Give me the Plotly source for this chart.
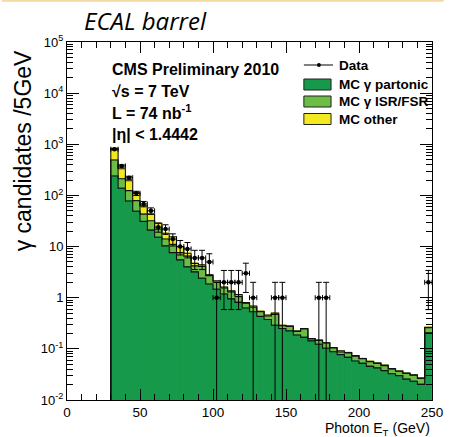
import numpy as np
import plotly.graph_objects as go

# ---- binning: 5 GeV bins from 30 to 250 GeV ----
bin_width = 5
bin_lo = list(range(30, 250, bin_width))

# ---- MC components per bin (candidates / 5 GeV) ----
mc_partonic = [240, 138, 78, 49, 31, 21, 15.2, 10.3, 7.6, 5.5, 4.0, 3.2, 2.4, 1.85,
               1.46, 1.18, 0.95, 0.81, 0.63, 0.53, 0.43, 0.375, 0.29, 0.25, 0.225,
               0.187, 0.168, 0.143, 0.123, 0.103, 0.088, 0.077, 0.068, 0.058, 0.052,
               0.0455, 0.0425, 0.0375, 0.0325, 0.030, 0.0256, 0.0232, 0.0202, 0.205]
mc_isr_fsr = [253, 74, 46, 30, 12, 11, 6.6, 3.8, 3.4, 2.1, 2.5, 1.0, 1.7, 0.85,
              0.54, 0.37, 0.35, 0.24, 0.15, 0.12, 0.10, 0.065, 0.18, 0.035, 0.05,
              0.033, 0.077, 0.013, 0.023, 0.027, 0.016, 0.010, 0.015, 0.014, 0.012,
              0.0105, 0.0095, 0.0095, 0.008, 0.0065, 0.0074, 0.0073, 0.0063, 0.055]
mc_other = [342, 121, 70, 34, 20, 11, 6.7, 4.1, 4.6, 2.35, 0.9, 0.5, 0.3, 0.1,
            0.15, 0.07, 0.07, 0.10, 0.02, 0.04, 0.01, 0.02, 0.03, 0.005, 0.005,
            0.003, 0.005, 0.003, 0.003, 0.002, 0.002, 0.005, 0.002, 0.002, 0.001,
            0.001, 0.001, 0.001, 0.0005, 0.0005, 0.0005, 0.0005, 0.0005, 0.004]

# ---- observed data counts per bin ----
data_counts = [800, 377, 222, 110, 68, 50, 24, 22, 14, 10, 9, 6, 6, 5,
               1, 2, 2, 2, 3, 1, 0, 0, 1, 1, 0, 0, 0, 0, 1, 1,
               0, 0, 0, 0, 0, 0, 0, 0, 0, 0, 0, 0, 0, 2]

# ---- axis ticks ----
x_ticks = [0, 50, 100, 150, 200, 250]
y_ticks = [1e-2, 1e-1, 1, 10, 1e2, 1e3, 1e4, 1e5]
y_ticktext = ["10<sup>-2</sup>", "10<sup>-1</sup>", "1", "10", "10<sup>2</sup>",
              "10<sup>3</sup>", "10<sup>4</sup>", "10<sup>5</sup>"]

C_PART = "#17994B"
C_ISR = "#6CBD45"
C_OTHER = "#F2EA1E"

lo = np.array(bin_lo, dtype=float)
centers = lo + bin_width / 2
lvl_part = np.array(mc_partonic)
lvl_isr = lvl_part + np.array(mc_isr_fsr)
lvl_tot = lvl_isr + np.array(mc_other)

fig = go.Figure()

# stacked histogram fills, drawn back to front
for lvl, col in [(lvl_tot, C_OTHER), (lvl_isr, C_ISR), (lvl_part, C_PART)]:
    fig.add_trace(go.Bar(x=centers, y=lvl, width=bin_width,
                         marker=dict(color=col, line=dict(color=col, width=0.6)),
                         hoverinfo="skip", showlegend=False))

# black step outlines on each stack level
step_x = list(lo) + [250.0]
for lvl in [lvl_tot, lvl_isr, lvl_part]:
    sx = [30.0] + step_x
    sy = [1e-4] + list(lvl) + [lvl[-1]]
    fig.add_trace(go.Scatter(x=sx, y=sy, mode="lines", line_shape="hv",
                             line=dict(color="#111111", width=1.1),
                             hoverinfo="skip", showlegend=False))

# data points with Poisson (sqrt N) errors
cnt = np.array(data_counts, dtype=float)
mask = cnt > 0
dx = centers[mask]
dy = cnt[mask]
err = np.sqrt(dy)
err_lo = np.where(dy - err <= 0, dy - 1e-4, err)
fig.add_trace(go.Scatter(
    x=dx, y=dy, mode="markers",
    marker=dict(color="black", size=4.5),
    error_y=dict(type="data", array=err, arrayminus=err_lo, color="black",
                 thickness=1, width=3),
    error_x=dict(type="constant", value=bin_width / 2, color="black",
                 thickness=1, width=2.5),
    hoverinfo="skip", showlegend=False))

# ---- layout geometry helpers (pixels -> paper) ----
L, R, T, B = 67, 443, 42, 400
W, H = 455, 437


def px(x):
    return (x - L) / (R - L)


def py(y):
    return (B - y) / (B - T)


FONT = "Liberation Sans, Arial, sans-serif"
ann = []
shapes = []

# title
ann.append(dict(text="ECAL barrel", x=px(82), y=py(21), xref="paper", yref="paper",
                xanchor="left", yanchor="middle", showarrow=False,
                font=dict(family="Open Sans, Lato, sans-serif", size=24,
                          style="italic", color="black")))

# y-axis title
ann.append(dict(text="γ candidates /5GeV", x=px(22), y=py(151), xref="paper",
                yref="paper", xanchor="center", yanchor="middle", textangle=-90,
                showarrow=False, font=dict(family=FONT, size=23, color="black")))

# x-axis title
ann.append(dict(text="Photon E<sub>T</sub> (GeV)", x=px(443), y=py(428.5),
                xref="paper", yref="paper", xanchor="right", yanchor="middle",
                showarrow=False, font=dict(family=FONT, size=14, color="black")))

# info block
info = [("<b>CMS Preliminary 2010</b>", 69),
        ("<b>√s = 7 TeV</b>", 91),
        ("<b>L = 74 nb<sup>-1</sup></b>", 112),
        ("<b>|η| < 1.4442</b>", 134)]
for txt, yy in info:
    ann.append(dict(text=txt, x=px(111), y=py(yy), xref="paper", yref="paper",
                    xanchor="left", yanchor="middle", showarrow=False,
                    font=dict(family=FONT, size=16, color="black")))

# legend
leg_items = [("Data", 65, None), ("MC γ partonic", 84.5, C_PART),
             ("MC γ ISR/FSR", 101.5, C_ISR), ("MC other", 119, C_OTHER)]
for txt, yy, col in leg_items:
    ann.append(dict(text="<b>" + txt + "</b>", x=px(345), y=py(yy), xref="paper",
                    yref="paper", xanchor="left", yanchor="middle", showarrow=False,
                    font=dict(family=FONT, size=13.5, color="black")))
    if col is None:
        shapes.append(dict(type="line", xref="paper", yref="paper",
                           x0=px(311), x1=px(341), y0=py(yy), y1=py(yy),
                           line=dict(color="black", width=1)))
        shapes.append(dict(type="circle", xref="paper", yref="paper",
                           x0=px(324.5), x1=px(328.5), y0=py(yy + 2), y1=py(yy - 2),
                           fillcolor="black", line=dict(color="black", width=0)))
    else:
        shapes.append(dict(type="rect", xref="paper", yref="paper",
                           x0=px(311), x1=px(339), y0=py(yy + 5.5), y1=py(yy - 5.5),
                           fillcolor=col, line=dict(color="#222222", width=1)))

# thin border line at the very top of the slide
shapes.append(dict(type="line", xref="paper", yref="paper", x0=px(0), x1=px(455),
                   y0=py(0.8), y1=py(0.8), line=dict(color="#F3D9A6", width=2)))

minor_y = [m * 10.0 ** e for e in range(-2, 5) for m in range(2, 10)]

fig.update_layout(
    width=W, height=H,
    margin=dict(l=L, r=W - R, t=T, b=H - B, pad=0),
    paper_bgcolor="white", plot_bgcolor="white",
    barmode="overlay", bargap=0,
    showlegend=False,
    annotations=ann, shapes=shapes,
    font=dict(family=FONT, color="black"),
    xaxis=dict(range=[0, 250], tickmode="array", tickvals=x_ticks,
               ticks="inside", ticklen=11, tickwidth=1, tickcolor="black",
               minor=dict(ticks="inside", ticklen=6, dtick=10, tick0=0,
                          tickcolor="black", tickwidth=1, showgrid=False),
               showline=True, linecolor="black", linewidth=1, mirror="ticks",
               showgrid=False, zeroline=False,
               tickfont=dict(family=FONT, size=13.5, color="black")),
    yaxis=dict(type="log", range=[-2, 5], tickmode="array", tickvals=y_ticks,
               ticktext=y_ticktext, ticks="inside", ticklen=12, tickwidth=1,
               tickcolor="black",
               minor=dict(ticks="inside", ticklen=6, tickmode="array",
                          tickvals=minor_y, tickcolor="black", tickwidth=1,
                          showgrid=False),
               showline=True, linecolor="black", linewidth=1, mirror="ticks",
               showgrid=False, zeroline=False,
               tickfont=dict(family=FONT, size=13, color="black")),
)

fig.write_html("out.html")
